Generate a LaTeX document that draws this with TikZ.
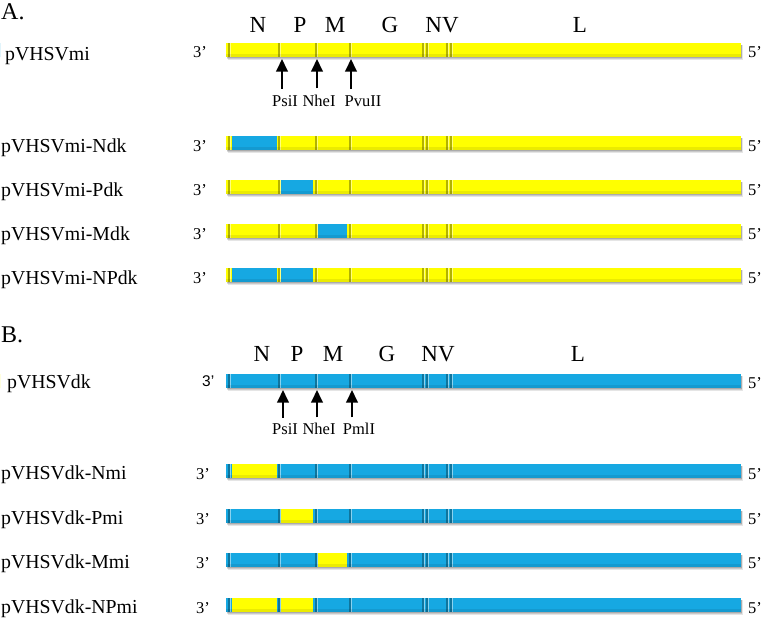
\documentclass[tikz,border=0pt]{standalone}
\usepackage{fontspec}
\setmainfont{Liberation Serif}
\newfontfamily\sansf{Liberation Sans}
\usetikzlibrary{arrows.meta}
\definecolor{vy}{RGB}{255,255,0}
\definecolor{vb}{RGB}{22,168,226}
\tikzset{
 rowlabel/.style={anchor=base west, font=\fontsize{19.8}{22}\selectfont, inner sep=0pt},
 endlabel/.style={anchor=base west, font=\fontsize{16.5}{19}\selectfont, inner sep=0pt},
 genelabel/.style={anchor=base, font=\fontsize{23}{27}\selectfont, inner sep=0pt},
 sitelabel/.style={anchor=base, font=\fontsize{16.5}{19}\selectfont, inner sep=0pt},
 panel/.style={anchor=base west, font=\fontsize{24}{28}\selectfont, inner sep=0pt},
 sitearrow/.style={line width=1.9pt, -{Triangle[width=11.5pt,length=12.5pt]}},
 shade/.style={fill=black, opacity=#1},
}
\newcommand\gbar[4]{%
 \fill[shade=.10] (227.5,#1-5) rectangle (742.5,#1+10);
 \fill[shade=.12] (227,#1-5) rectangle (742,#1+9);
 \fill[shade=.15] (226.5,#1-5) rectangle (741.5,#1+8);
 \fill[#2] (226,#1-7) rectangle (741,#1+7);
 \foreach \a/\b in {#4} {\fill[#3] (\a,#1-7) rectangle (\b,#1+7);}
 \foreach \p in {229,279,316,350,423,427,447,451} {
   \draw[black, opacity=.3, line width=1.1pt] (\p,#1-7) -- (\p,#1+7);
   \draw[white, opacity=.5, line width=.8pt] (\p+1.3,#1-7) -- (\p+1.3,#1+7);
 }
 \fill[shade=.08] (226,#1+4) rectangle (741,#1+7);
}
\begin{document}
\begin{tikzpicture}[x=1pt,y=-1pt]
\useasboundingbox[fill=white] (0,0) rectangle (766,622);

% ---------- Panel A ----------
\node[panel] (pA) at (1,19) {A.};
\foreach \g/\x in {N/258,P/300,M/335,G/390,NV/442,L/580}
  \node[genelabel] (gA\g) at (\x,32) {\g};

\gbar{50}{vy}{vb}{0/0}
\node[rowlabel] (rA1) at (5,60) {pVHSVmi};
\node[endlabel] (tA1) at (193,57) {3’};
\node[endlabel] (fA1) at (748,57) {5’};

\node[sitelabel] (psiA) at (285,106) {PsiI};
\node[sitelabel] (nheA) at (319,106) {NheI};
\node[sitelabel] (pvuA) at (363,106) {PvuII};
\coordinate (psiAt) at (282,59);
\coordinate (nheAt) at (317,59);
\coordinate (pvuAt) at (351,59);
\draw[sitearrow, shorten <=6pt] (psiA.north -| psiAt) -- (psiAt);
\draw[sitearrow, shorten <=6pt] (nheA.north -| nheAt) -- (nheAt);
\draw[sitearrow, shorten <=6pt] (pvuA.north -| pvuAt) -- (pvuAt);

\gbar{143}{vy}{vb}{232/277}
\node[rowlabel] (rA2) at (1,152) {pVHSVmi-Ndk};
\node[endlabel] (tA2) at (193,151) {3’};
\node[endlabel] (fA2) at (748,151) {5’};

\gbar{187}{vy}{vb}{281/313}
\node[rowlabel] (rA3) at (1,196) {pVHSVmi-Pdk};
\node[endlabel] (tA3) at (193,195) {3’};
\node[endlabel] (fA3) at (748,195) {5’};

\gbar{231}{vy}{vb}{318/347}
\node[rowlabel] (rA4) at (1,240) {pVHSVmi-Mdk};
\node[endlabel] (tA4) at (193,239) {3’};
\node[endlabel] (fA4) at (748,239) {5’};

\gbar{275}{vy}{vb}{232/277,281/313}
\node[rowlabel] (rA5) at (1,284) {pVHSVmi-NPdk};
\node[endlabel] (tA5) at (193,283) {3’};
\node[endlabel] (fA5) at (748,283) {5’};

% ---------- Panel B ----------
\node[panel] (pB) at (1,342) {B.};
\foreach \g/\x in {N/262,P/297,M/333,G/387,NV/438,L/578}
  \node[genelabel] (gB\g) at (\x,361) {\g};

\gbar{381}{vb}{vy}{0/0}
\node[rowlabel] (rB1) at (7,388) {pVHSVdk};
\node[endlabel, font=\sansf\fontsize{15.5}{18}\selectfont] (tB1) at (202,386) {3’};
\node[endlabel] (fB1) at (748,388) {5’};

\node[sitelabel] (psiB) at (285,434) {PsiI};
\node[sitelabel] (nheB) at (319,434) {NheI};
\node[sitelabel] (pmlB) at (359,434) {PmlI};
\coordinate (psiBt) at (283,390);
\coordinate (nheBt) at (317,390);
\coordinate (pmlBt) at (352,390);
\draw[sitearrow, shorten <=5pt] (psiB.north -| psiBt) -- (psiBt);
\draw[sitearrow, shorten <=5pt] (nheB.north -| nheBt) -- (nheBt);
\draw[sitearrow, shorten <=5pt] (pmlB.north -| pmlBt) -- (pmlBt);

\gbar{471}{vb}{vy}{232/277}
\node[rowlabel] (rB2) at (1,479) {pVHSVdk-Nmi};
\node[endlabel] (tB2) at (196,479) {3’};
\node[endlabel] (fB2) at (748,479) {5’};

\gbar{516}{vb}{vy}{281/313}
\node[rowlabel] (rB3) at (1,524) {pVHSVdk-Pmi};
\node[endlabel] (tB3) at (196,524) {3’};
\node[endlabel] (fB3) at (748,524) {5’};

\gbar{560}{vb}{vy}{318/347}
\node[rowlabel] (rB4) at (1,568) {pVHSVdk-Mmi};
\node[endlabel] (tB4) at (196,568) {3’};
\node[endlabel] (fB4) at (748,568) {5’};

\gbar{605}{vb}{vy}{232/277,281/313}
\node[rowlabel] (rB5) at (1,613) {pVHSVdk-NPmi};
\node[endlabel] (tB5) at (196,613) {3’};
\node[endlabel] (fB5) at (748,613) {5’};
\end{tikzpicture}
\end{document}
